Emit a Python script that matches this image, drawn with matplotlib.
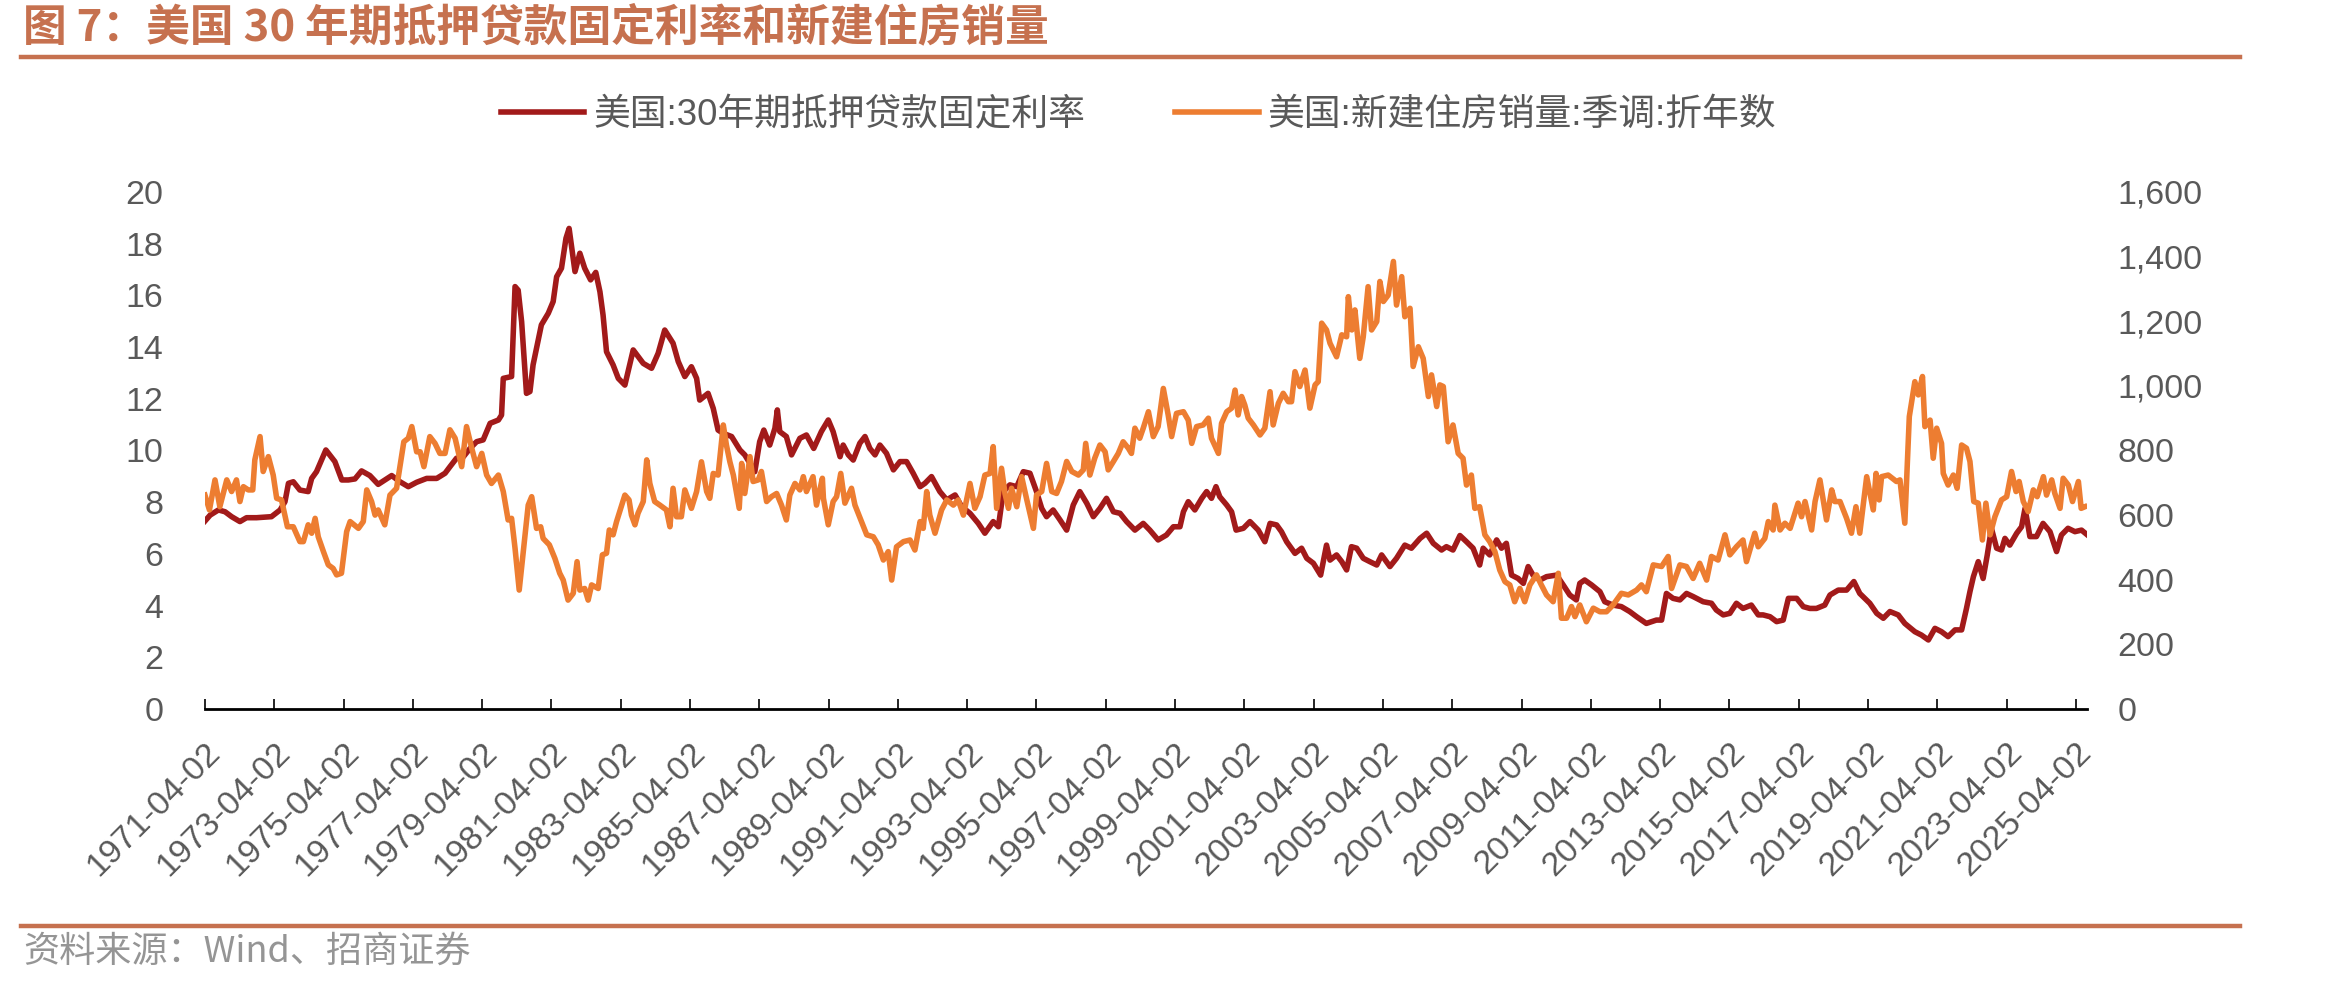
import matplotlib
matplotlib.use('Agg')
import matplotlib.pyplot as plt
from matplotlib.lines import Line2D
from matplotlib.ticker import FuncFormatter

# 美国30年期抵押贷款固定利率 (%), 按图读数 (年份为小数)
rate_year = [
    1971.25, 1971.40, 1971.64, 1971.83, 1972.02, 1972.26, 1972.45, 1972.74, 1973.17, 1973.42,
    1973.56, 1973.66, 1973.80, 1973.99, 1974.23, 1974.33, 1974.47, 1974.74, 1975.00, 1975.20,
    1975.39, 1975.58, 1975.77, 1976.01, 1976.25, 1976.49, 1976.64, 1976.88, 1977.12, 1977.36,
    1977.65, 1977.94, 1978.18, 1978.32, 1978.51, 1978.71, 1978.90, 1979.09, 1979.28, 1979.48,
    1979.72, 1979.81, 1979.86, 1980.10, 1980.20, 1980.29, 1980.39, 1980.53, 1980.63, 1980.72,
    1980.82, 1980.96, 1981.16, 1981.30, 1981.40, 1981.54, 1981.67, 1981.76, 1981.93, 1982.07,
    1982.21, 1982.38, 1982.53, 1982.65, 1982.74, 1982.84, 1983.03, 1983.18, 1983.37, 1983.61,
    1983.90, 1984.14, 1984.33, 1984.52, 1984.76, 1984.91, 1985.10, 1985.29, 1985.44, 1985.53,
    1985.77, 1985.92, 1986.06, 1986.21, 1986.45, 1986.69, 1986.83, 1986.98, 1987.12, 1987.26,
    1987.38, 1987.55, 1987.70, 1987.77, 1987.84, 1988.03, 1988.18, 1988.42, 1988.61, 1988.82,
    1989.04, 1989.24, 1989.38, 1989.58, 1989.67, 1989.82, 1989.96, 1990.15, 1990.30, 1990.44,
    1990.59, 1990.73, 1990.92, 1991.12, 1991.31, 1991.50, 1991.69, 1991.89, 1992.03, 1992.22,
    1992.46, 1992.66, 1992.90, 1993.09, 1993.33, 1993.57, 1993.76, 1994.00, 1994.15, 1994.29,
    1994.48, 1994.68, 1994.87, 1995.06, 1995.25, 1995.40, 1995.54, 1995.73, 1995.93, 1996.12,
    1996.31, 1996.50, 1996.70, 1996.89, 1997.08, 1997.27, 1997.47, 1997.66, 1997.85, 1998.09,
    1998.33, 1998.52, 1998.76, 1999.00, 1999.20, 1999.39, 1999.49, 1999.63, 1999.82, 2000.02,
    2000.16, 2000.30, 2000.43, 2000.54, 2000.74, 2000.88, 2001.01, 2001.22, 2001.41, 2001.65,
    2001.84, 2001.99, 2002.18, 2002.32, 2002.47, 2002.71, 2002.90, 2003.05, 2003.24, 2003.45,
    2003.62, 2003.72, 2003.91, 2004.06, 2004.20, 2004.34, 2004.49, 2004.68, 2004.87, 2005.07,
    2005.21, 2005.45, 2005.64, 2005.88, 2006.07, 2006.32, 2006.51, 2006.70, 2006.94, 2007.08,
    2007.27, 2007.47, 2007.66, 2007.85, 2008.04, 2008.14, 2008.33, 2008.53, 2008.67, 2008.81,
    2008.96, 2009.15, 2009.30, 2009.44, 2009.58, 2009.78, 2009.97, 2010.26, 2010.45, 2010.64,
    2010.83, 2010.93, 2011.07, 2011.27, 2011.51, 2011.65, 2011.89, 2012.13, 2012.37, 2012.57,
    2012.85, 2013.14, 2013.29, 2013.43, 2013.62, 2013.82, 2014.01, 2014.20, 2014.49, 2014.73,
    2014.87, 2015.07, 2015.26, 2015.45, 2015.64, 2015.88, 2016.08, 2016.22, 2016.42, 2016.61,
    2016.80, 2016.95, 2017.19, 2017.38, 2017.57, 2017.76, 2018.00, 2018.15, 2018.39, 2018.63,
    2018.84, 2019.01, 2019.30, 2019.50, 2019.69, 2019.88, 2020.12, 2020.31, 2020.60, 2020.79,
    2020.99, 2021.18, 2021.37, 2021.56, 2021.76, 2021.95, 2022.09, 2022.19, 2022.29, 2022.43,
    2022.57, 2022.69, 2022.81, 2022.96, 2023.10, 2023.20, 2023.34, 2023.54, 2023.68, 2023.78,
    2023.92, 2024.11, 2024.30, 2024.50, 2024.69, 2024.83, 2025.02, 2025.22, 2025.41, 2025.60,
]
rate_val = [
    7.27, 7.50, 7.70, 7.63, 7.44, 7.25, 7.40, 7.40, 7.44, 7.70,
    8.02, 8.73, 8.79, 8.47, 8.41, 8.92, 9.18, 10.02, 9.57, 8.86,
    8.86, 8.90, 9.21, 9.03, 8.69, 8.90, 9.03, 8.79, 8.60, 8.77,
    8.92, 8.92, 9.12, 9.37, 9.70, 9.76, 10.08, 10.34, 10.41, 11.05,
    11.18, 11.37, 12.79, 12.86, 16.34, 16.20, 14.98, 12.21, 12.28, 13.31,
    13.95, 14.86, 15.31, 15.76, 16.72, 17.05, 18.21, 18.59, 16.92, 17.63,
    17.05, 16.60, 16.89, 16.14, 15.24, 13.82, 13.31, 12.79, 12.53, 13.89,
    13.37, 13.18, 13.76, 14.66, 14.15, 13.44, 12.86, 13.24, 12.79, 11.95,
    12.21, 11.63, 10.79, 10.66, 10.54, 10.02, 9.83, 9.50, 9.18, 10.34,
    10.79, 10.21, 10.86, 11.57, 10.73, 10.54, 9.83, 10.47, 10.60, 10.08,
    10.73, 11.18, 10.73, 9.76, 10.21, 9.83, 9.63, 10.28, 10.54, 10.08,
    9.83, 10.21, 9.89, 9.25, 9.57, 9.57, 9.12, 8.60, 8.73, 8.99,
    8.41, 8.09, 8.28, 7.83, 7.57, 7.18, 6.80, 7.25, 7.05, 8.41,
    8.67, 8.60, 9.18, 9.12, 8.41, 7.76, 7.44, 7.70, 7.31, 6.92,
    7.89, 8.41, 7.96, 7.44, 7.76, 8.15, 7.63, 7.57, 7.25, 6.92,
    7.18, 6.92, 6.54, 6.73, 7.05, 7.05, 7.63, 8.02, 7.70, 8.15,
    8.41, 8.15, 8.60, 8.21, 7.89, 7.63, 6.92, 6.99, 7.25, 6.92,
    6.47, 7.18, 7.12, 6.86, 6.47, 6.02, 6.22, 5.83, 5.64, 5.18,
    6.34, 5.76, 5.96, 5.70, 5.38, 6.28, 6.22, 5.83, 5.70, 5.57,
    5.96, 5.51, 5.83, 6.34, 6.22, 6.60, 6.80, 6.41, 6.15, 6.28,
    6.15, 6.71, 6.47, 6.22, 5.57, 6.22, 5.96, 6.54, 6.22, 6.41,
    5.18, 5.05, 4.86, 5.51, 5.18, 4.99, 5.12, 5.18, 4.80, 4.41,
    4.22, 4.86, 4.99, 4.80, 4.54, 4.15, 4.02, 3.96, 3.77, 3.57,
    3.31, 3.44, 3.44, 4.47, 4.28, 4.22, 4.47, 4.35, 4.15, 4.09,
    3.83, 3.64, 3.70, 4.09, 3.89, 4.02, 3.64, 3.64, 3.57, 3.38,
    3.44, 4.28, 4.28, 3.96, 3.89, 3.89, 4.02, 4.41, 4.60, 4.60,
    4.93, 4.47, 4.09, 3.70, 3.51, 3.77, 3.64, 3.31, 2.99, 2.86,
    2.67, 3.12, 2.99, 2.80, 3.06, 3.06, 3.89, 4.54, 5.12, 5.70,
    5.05, 5.96, 6.99, 6.22, 6.15, 6.60, 6.34, 6.80, 7.05, 7.76,
    6.67, 6.67, 7.18, 6.86, 6.09, 6.73, 6.99, 6.86, 6.92, 6.71,
]

# 美国新建住房销量:季调:折年数 (千套)
sales_year = [
    1971.25, 1971.38, 1971.54, 1971.68, 1971.88, 1972.02, 1972.16, 1972.26, 1972.36, 1972.50,
    1972.63, 1972.69, 1972.84, 1972.93, 1973.08, 1973.22, 1973.32, 1973.46, 1973.63, 1973.80,
    1973.99, 1974.09, 1974.23, 1974.33, 1974.43, 1974.52, 1974.67, 1974.81, 1974.95, 1975.05,
    1975.19, 1975.34, 1975.44, 1975.68, 1975.82, 1975.92, 1976.06, 1976.16, 1976.25, 1976.44,
    1976.59, 1976.78, 1976.99, 1977.12, 1977.22, 1977.36, 1977.46, 1977.57, 1977.74, 1977.89,
    1978.03, 1978.18, 1978.32, 1978.47, 1978.66, 1978.80, 1978.95, 1979.09, 1979.24, 1979.38,
    1979.52, 1979.72, 1979.86, 1980.00, 1980.10, 1980.20, 1980.32, 1980.58, 1980.68, 1980.82,
    1980.94, 1981.01, 1981.19, 1981.35, 1981.49, 1981.59, 1981.73, 1981.88, 1981.99, 1982.07,
    1982.21, 1982.31, 1982.41, 1982.60, 1982.72, 1982.84, 1982.92, 1983.03, 1983.13, 1983.37,
    1983.49, 1983.56, 1983.66, 1983.75, 1983.90, 1984.00, 1984.09, 1984.23, 1984.38, 1984.57,
    1984.67, 1984.76, 1984.86, 1985.00, 1985.10, 1985.29, 1985.44, 1985.58, 1985.73, 1985.82,
    1985.92, 1986.06, 1986.21, 1986.30, 1986.40, 1986.50, 1986.67, 1986.74, 1986.83, 1986.98,
    1987.07, 1987.22, 1987.31, 1987.46, 1987.60, 1987.75, 1987.89, 1988.03, 1988.13, 1988.28,
    1988.42, 1988.52, 1988.61, 1988.80, 1988.90, 1989.07, 1989.10, 1989.24, 1989.38, 1989.48,
    1989.60, 1989.72, 1989.91, 1990.01, 1990.20, 1990.35, 1990.54, 1990.68, 1990.83, 1990.97,
    1991.07, 1991.21, 1991.41, 1991.60, 1991.74, 1991.89, 1991.98, 1992.08, 1992.17, 1992.32,
    1992.51, 1992.66, 1992.85, 1992.99, 1993.14, 1993.33, 1993.47, 1993.62, 1993.76, 1993.91,
    1994.00, 1994.10, 1994.24, 1994.34, 1994.44, 1994.53, 1994.68, 1994.82, 1994.96, 1995.16,
    1995.25, 1995.40, 1995.54, 1995.69, 1995.83, 1995.97, 1996.12, 1996.27, 1996.46, 1996.60,
    1996.67, 1996.79, 1996.93, 1997.08, 1997.23, 1997.32, 1997.47, 1997.61, 1997.75, 1997.90,
    1997.99, 1998.09, 1998.23, 1998.33, 1998.48, 1998.62, 1998.76, 1998.91, 1999.05, 1999.15,
    1999.29, 1999.49, 1999.63, 1999.73, 1999.87, 2000.06, 2000.21, 2000.30, 2000.50, 2000.59,
    2000.74, 2000.88, 2000.98, 2001.07, 2001.17, 2001.26, 2001.36, 2001.51, 2001.70, 2001.84,
    2001.99, 2002.08, 2002.23, 2002.37, 2002.52, 2002.61, 2002.71, 2002.85, 2003.00, 2003.14,
    2003.29, 2003.38, 2003.48, 2003.62, 2003.72, 2003.91, 2004.06, 2004.20, 2004.25, 2004.35,
    2004.44, 2004.58, 2004.68, 2004.82, 2004.92, 2005.07, 2005.16, 2005.26, 2005.40, 2005.55,
    2005.64, 2005.79, 2005.88, 2006.03, 2006.12, 2006.27, 2006.41, 2006.56, 2006.65, 2006.80,
    2006.89, 2006.99, 2007.13, 2007.27, 2007.42, 2007.56, 2007.66, 2007.80, 2007.90, 2008.04,
    2008.19, 2008.33, 2008.48, 2008.62, 2008.77, 2008.91, 2009.05, 2009.20, 2009.34, 2009.49,
    2009.68, 2009.82, 2009.97, 2010.16, 2010.31, 2010.40, 2010.55, 2010.69, 2010.79, 2010.93,
    2011.12, 2011.32, 2011.51, 2011.70, 2011.89, 2012.13, 2012.33, 2012.57, 2012.71, 2012.85,
    2013.05, 2013.29, 2013.48, 2013.58, 2013.82, 2014.01, 2014.20, 2014.39, 2014.59, 2014.73,
    2014.92, 2015.12, 2015.26, 2015.45, 2015.64, 2015.74, 2015.98, 2016.08, 2016.27, 2016.37,
    2016.51, 2016.56, 2016.71, 2016.85, 2017.00, 2017.23, 2017.33, 2017.43, 2017.62, 2017.72,
    2017.86, 2018.05, 2018.20, 2018.29, 2018.44, 2018.63, 2018.77, 2018.90, 2019.01, 2019.21,
    2019.40, 2019.48, 2019.57, 2019.64, 2019.83, 2020.07, 2020.17, 2020.31, 2020.44, 2020.60,
    2020.70, 2020.82, 2020.89, 2021.04, 2021.13, 2021.23, 2021.37, 2021.42, 2021.56, 2021.71,
    2021.82, 2021.95, 2022.09, 2022.19, 2022.30, 2022.43, 2022.55, 2022.65, 2022.77, 2022.91,
    2023.10, 2023.25, 2023.39, 2023.52, 2023.61, 2023.73, 2023.87, 2024.02, 2024.13, 2024.31,
    2024.40, 2024.55, 2024.64, 2024.79, 2024.88, 2025.03, 2025.15, 2025.32, 2025.40, 2025.51,
]
sales_val = [
    662, 616, 709, 626, 709, 673, 709, 642, 688, 678,
    678, 771, 843, 735, 781, 724, 652, 647, 564, 564,
    518, 518, 570, 544, 590, 533, 487, 446, 435, 415,
    420, 549, 580, 559, 580, 678, 642, 600, 616, 570,
    662, 683, 827, 838, 874, 796, 796, 750, 843, 822,
    791, 791, 864, 838, 750, 874, 807, 750, 791, 724,
    698, 724, 673, 585, 590, 497, 368, 631, 657, 559,
    564, 528, 508, 466, 420, 399, 337, 358, 456, 368,
    373, 337, 384, 373, 477, 482, 554, 539, 580, 662,
    647, 600, 570, 606, 642, 771, 698, 642, 631, 616,
    564, 683, 595, 595, 678, 621, 673, 765, 673, 652,
    729, 724, 879, 817, 765, 724, 621, 760, 667, 781,
    704, 709, 735, 642, 657, 667, 631, 585, 662, 698,
    678, 719, 673, 719, 631, 714, 652, 570, 642, 657,
    729, 637, 683, 631, 580, 539, 533, 508, 461, 487,
    399, 502, 518, 523, 492, 580, 559, 673, 600, 544,
    616, 647, 631, 647, 600, 698, 621, 657, 724, 729,
    812, 621, 745, 667, 621, 683, 626, 719, 652, 559,
    662, 673, 760, 673, 667, 704, 766, 735, 724, 740,
    822, 724, 776, 817, 796, 740, 766, 791, 827, 807,
    791, 869, 838, 869, 920, 843, 874, 992, 910, 843,
    915, 920, 894, 822, 874, 879, 900, 838, 791, 884,
    920, 931, 987, 910, 967, 941, 900, 879, 848, 869,
    982, 879, 946, 977, 951, 951, 1044, 998, 1049, 931,
    1003, 1013, 1194, 1173, 1132, 1090, 1158, 1152, 1276, 1173,
    1235, 1085, 1152, 1307, 1173, 1199, 1323, 1261, 1281, 1385,
    1250, 1338, 1214, 1240, 1060, 1121, 1085, 967, 1034, 936,
    1003, 998, 827, 879, 791, 776, 693, 724, 621, 626,
    539, 518, 487, 430, 394, 384, 332, 373, 332, 384,
    415, 384, 353, 332, 420, 281, 281, 317, 286, 322,
    270, 312, 301, 301, 322, 358, 353, 368, 384, 363,
    446, 441, 472, 373, 446, 441, 404, 451, 399, 472,
    461, 539, 477, 502, 523, 456, 544, 502, 528, 580,
    554, 631, 554, 575, 559, 637, 595, 642, 554, 642,
    709, 585, 678, 642, 642, 590, 544, 626, 544, 719,
    616, 729, 647, 719, 724, 704, 709, 575, 905, 1013,
    972, 1029, 874, 894, 776, 869, 822, 729, 693, 724,
    683, 817, 807, 766, 642, 637, 523, 637, 539, 595,
    647, 657, 735, 673, 704, 642, 611, 678, 657, 719,
    662, 709, 667, 621, 714, 693, 642, 704, 621, 626,
]

tick_years = list(range(1971, 2026, 2))
tick_labels = [f'{y}-04-02' for y in tick_years]

label_rate = '美国:30年期抵押贷款固定利率'
label_sales = '美国:新建住房销量:季调:折年数'
title_text = '图 7：美国 30 年期抵押贷款固定利率和新建住房销量'
source_text = '资料来源：Wind、招商证券'

RED = '#A21A1A'
ORANGE = '#ED7D31'
ACCENT = '#C6714F'
GREY = '#595959'

plt.rcParams['font.family'] = ['Liberation Sans', 'Noto Sans CJK SC', 'DejaVu Sans']

fig = plt.figure(figsize=(23.5, 9.85), dpi=100)
ax = fig.add_axes([0.0872, 0.2802, 0.8009, 0.5249])
ax2 = ax.twinx()

l1, = ax.plot(rate_year, rate_val, color=RED, lw=4.0, solid_joinstyle='round')
l2, = ax2.plot(sales_year, sales_val, color=ORANGE, lw=4.0, solid_joinstyle='round')

ax.set_ylim(0, 20)
ax.set_yticks(range(0, 21, 2))
ax2.set_ylim(0, 1600)
ax2.set_yticks(range(0, 1601, 200))
ax2.yaxis.set_major_formatter(FuncFormatter(lambda v, p: f'{int(v):,}'))

# 刻度: 每两年一个, 日期从 04-02 开始
tick_pos = [y + 91 / 365 for y in tick_years]
ax.set_xlim(tick_pos[0], tick_pos[-1] + 0.32)
ax.set_xticks(tick_pos)
ax.set_xticklabels(tick_labels, rotation=45, ha='right', va='top',
                   rotation_mode='anchor')

for a in (ax, ax2):
    for s in ('top', 'left', 'right'):
        a.spines[s].set_visible(False)
    a.spines['bottom'].set_visible(a is ax)
ax.spines['bottom'].set_linewidth(2)
ax.spines['bottom'].set_color('black')

ax.tick_params(axis='x', direction='in', length=7, width=1.2, colors='black',
               labelcolor=GREY, labelsize=24.5, pad=20)
ax.tick_params(axis='y', length=0, labelcolor=GREY, labelsize=24.5, pad=30)
ax2.tick_params(axis='y', length=0, labelcolor=GREY, labelsize=24.5, pad=22)

fig.legend([l1, l2], [label_rate, label_sales], loc='center',
           bbox_to_anchor=(0.4845, 0.883), ncol=2, frameon=False,
           fontsize=26.5, handlelength=2.26, handletextpad=0.25,
           columnspacing=2.45, labelcolor=GREY)

# 标题与上下装饰线
fig.text(0.0098, 0.972, title_text, color=ACCENT, fontsize=31.5, fontweight='bold',
         family=['Noto Sans CJK SC'], ha='left', va='center')
fig.add_artist(Line2D([0.009, 0.953], [0.942, 0.942], color=ACCENT, lw=3.2))
fig.add_artist(Line2D([0.009, 0.953], [0.060, 0.060], color=ACCENT, lw=3.2))
fig.text(0.0098, 0.0335, source_text, color='#959595', fontsize=26,
         family=['Noto Sans CJK SC', 'Liberation Sans'], ha='left', va='center')

fig.savefig('out.png', dpi=100)
